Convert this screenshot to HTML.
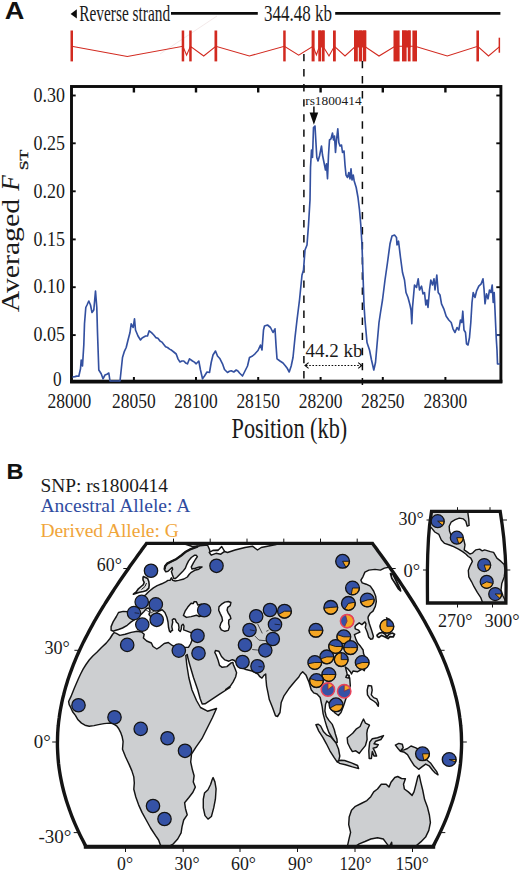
<!DOCTYPE html>
<html><head><meta charset="utf-8"><title>Figure</title>
<style>
html,body{margin:0;padding:0;background:#fff;}
body{width:520px;height:872px;overflow:hidden;font-family:"Liberation Serif",serif;}
svg{display:block;}
</style></head><body>
<svg width="520" height="872" viewBox="0 0 520 872">
<rect x="0" y="0" width="520" height="872" fill="#ffffff"/>
<text x="4.8" y="18.8" font-size="24.2" font-family='"Liberation Sans", sans-serif' font-weight="bold" font-style="normal" fill="#111" text-anchor="start" textLength="19.6" lengthAdjust="spacingAndGlyphs">A</text>
<polygon points="70.6,13.9 76.8,9.3 76.8,18.5" fill="#0c0c0c"/>
<text x="79.2" y="21" font-size="22.8" font-family='"Liberation Serif", serif' font-weight="normal" font-style="normal" fill="#1a1a1a" text-anchor="start" textLength="91" lengthAdjust="spacingAndGlyphs">Reverse strand</text>
<line x1="171" y1="13.3" x2="257.8" y2="13.3" stroke="#0c0c0c" stroke-width="2.7"/>
<text x="264" y="21" font-size="22.6" font-family='"Liberation Serif", serif' font-weight="normal" font-style="normal" fill="#1a1a1a" text-anchor="start" textLength="68" lengthAdjust="spacingAndGlyphs">344.48 kb</text>
<line x1="335.2" y1="13.3" x2="500.4" y2="13.3" stroke="#0c0c0c" stroke-width="2.7"/>
<line x1="160" y1="54" x2="217" y2="16" stroke="#efe2e2" stroke-width="0.8"/>
<polyline points="71.6,46.3 127.3,56.5 182.9,46.3 186.6,55.2 190.4,46.3 203.7,56.0 215.8,46.3 249.4,56.0 284.4,46.3 298.7,55.2 313.0,46.3 316.4,55.0 319.5,46.3 323.0,46.3 329.0,56.0 334.4,46.3 345.0,56.0 355.5,46.3 364.5,46.3 379.0,56.0 395.0,46.3 415.0,46.3 447.3,56.0 477.7,46.3 488.5,56.0 499.3,46.8" fill="none" stroke="#d22a20" stroke-width="1.1" stroke-linejoin="miter"/>
<rect x="70.5" y="30.5" width="2.5" height="30.9" fill="#d22a20"/>
<rect x="181.7" y="30.5" width="2.5" height="30.9" fill="#d22a20"/>
<rect x="189.2" y="30.5" width="2.5" height="30.9" fill="#d22a20"/>
<rect x="214.5" y="30.5" width="2.7" height="30.9" fill="#d22a20"/>
<rect x="283.2" y="30.5" width="2.5" height="30.9" fill="#d22a20"/>
<rect x="311.6" y="30.5" width="3.0" height="30.9" fill="#d22a20"/>
<rect x="318.3" y="30.5" width="2.7" height="30.9" fill="#d22a20"/>
<rect x="321.8" y="30.5" width="2.8" height="30.9" fill="#d22a20"/>
<rect x="333.0" y="30.5" width="2.8" height="30.9" fill="#d22a20"/>
<rect x="354.0" y="30.5" width="3.8" height="30.9" fill="#d22a20"/>
<rect x="358.8" y="30.5" width="3.2" height="30.9" fill="#d22a20"/>
<rect x="362.8" y="30.5" width="3.4" height="30.9" fill="#d22a20"/>
<rect x="393.5" y="30.5" width="6.1" height="30.9" fill="#d22a20"/>
<rect x="402.0" y="30.5" width="4.6" height="30.9" fill="#d22a20"/>
<rect x="407.8" y="30.5" width="2.8" height="30.9" fill="#d22a20"/>
<rect x="412.4" y="30.5" width="4.6" height="30.9" fill="#d22a20"/>
<rect x="476.4" y="30.5" width="2.6" height="30.9" fill="#d22a20"/>
<rect x="318.3" y="30.5" width="6.3" height="17" fill="#d22a20"/>
<rect x="354.0" y="30.5" width="12.2" height="17" fill="#d22a20"/>
<rect x="402.0" y="30.5" width="8.6" height="17" fill="#d22a20"/>
<rect x="498.6" y="37.7" width="1.5" height="15" fill="#d22a20"/>
<line x1="303.9" y1="53.9" x2="303.9" y2="385" stroke="#0c0c0c" stroke-width="1.5" stroke-dasharray="7.4,7.7"/>
<line x1="362.4" y1="60.9" x2="362.4" y2="385" stroke="#0c0c0c" stroke-width="1.5" stroke-dasharray="7.4,7.7"/>
<rect x="71.5" y="86.5" width="429.4" height="294.9" fill="none" stroke="#0c0c0c" stroke-width="2.9"/>
<line x1="70.05" y1="381.54999999999995" x2="502.34999999999997" y2="381.54999999999995" stroke="#0c0c0c" stroke-width="3.7"/>
<line x1="71.5" y1="95.5" x2="75.7" y2="95.5" stroke="#0c0c0c" stroke-width="1.9"/>
<line x1="500.9" y1="95.5" x2="496.29999999999995" y2="95.5" stroke="#0c0c0c" stroke-width="1.9"/>
<text x="33.6" y="101.7" font-size="20" font-family='"Liberation Serif", serif' font-weight="normal" font-style="normal" fill="#1a1a1a" text-anchor="start" textLength="31.4" lengthAdjust="spacingAndGlyphs">0.30</text>
<line x1="71.5" y1="143.3" x2="75.7" y2="143.3" stroke="#0c0c0c" stroke-width="1.9"/>
<line x1="500.9" y1="143.3" x2="496.29999999999995" y2="143.3" stroke="#0c0c0c" stroke-width="1.9"/>
<text x="33.6" y="149.5" font-size="20" font-family='"Liberation Serif", serif' font-weight="normal" font-style="normal" fill="#1a1a1a" text-anchor="start" textLength="31.4" lengthAdjust="spacingAndGlyphs">0.25</text>
<line x1="71.5" y1="191.3" x2="75.7" y2="191.3" stroke="#0c0c0c" stroke-width="1.9"/>
<line x1="500.9" y1="191.3" x2="496.29999999999995" y2="191.3" stroke="#0c0c0c" stroke-width="1.9"/>
<text x="33.6" y="197.5" font-size="20" font-family='"Liberation Serif", serif' font-weight="normal" font-style="normal" fill="#1a1a1a" text-anchor="start" textLength="31.4" lengthAdjust="spacingAndGlyphs">0.20</text>
<line x1="71.5" y1="239.4" x2="75.7" y2="239.4" stroke="#0c0c0c" stroke-width="1.9"/>
<line x1="500.9" y1="239.4" x2="496.29999999999995" y2="239.4" stroke="#0c0c0c" stroke-width="1.9"/>
<text x="33.6" y="245.6" font-size="20" font-family='"Liberation Serif", serif' font-weight="normal" font-style="normal" fill="#1a1a1a" text-anchor="start" textLength="31.4" lengthAdjust="spacingAndGlyphs">0.15</text>
<line x1="71.5" y1="287.2" x2="75.7" y2="287.2" stroke="#0c0c0c" stroke-width="1.9"/>
<line x1="500.9" y1="287.2" x2="496.29999999999995" y2="287.2" stroke="#0c0c0c" stroke-width="1.9"/>
<text x="33.6" y="293.4" font-size="20" font-family='"Liberation Serif", serif' font-weight="normal" font-style="normal" fill="#1a1a1a" text-anchor="start" textLength="31.4" lengthAdjust="spacingAndGlyphs">0.10</text>
<line x1="71.5" y1="335.1" x2="75.7" y2="335.1" stroke="#0c0c0c" stroke-width="1.9"/>
<line x1="500.9" y1="335.1" x2="496.29999999999995" y2="335.1" stroke="#0c0c0c" stroke-width="1.9"/>
<text x="33.6" y="341.3" font-size="20" font-family='"Liberation Serif", serif' font-weight="normal" font-style="normal" fill="#1a1a1a" text-anchor="start" textLength="31.4" lengthAdjust="spacingAndGlyphs">0.05</text>
<text x="53.0" y="385.8" font-size="20" font-family='"Liberation Serif", serif' font-weight="normal" font-style="normal" fill="#1a1a1a" text-anchor="start" textLength="8.6" lengthAdjust="spacingAndGlyphs">0</text>
<text x="47.60000000000001" y="407.8" font-size="20.8" font-family='"Liberation Serif", serif' font-weight="normal" font-style="normal" fill="#1a1a1a" text-anchor="start" textLength="43.6" lengthAdjust="spacingAndGlyphs">28000</text>
<line x1="133.9" y1="381.4" x2="133.9" y2="377.0" stroke="#0c0c0c" stroke-width="2.0"/>
<line x1="133.9" y1="86.5" x2="133.9" y2="92.5" stroke="#0c0c0c" stroke-width="2.4"/>
<text x="112.10000000000001" y="407.8" font-size="20.8" font-family='"Liberation Serif", serif' font-weight="normal" font-style="normal" fill="#1a1a1a" text-anchor="start" textLength="43.6" lengthAdjust="spacingAndGlyphs">28050</text>
<line x1="196.0" y1="381.4" x2="196.0" y2="377.0" stroke="#0c0c0c" stroke-width="2.0"/>
<line x1="196.0" y1="86.5" x2="196.0" y2="92.5" stroke="#0c0c0c" stroke-width="2.4"/>
<text x="174.2" y="407.8" font-size="20.8" font-family='"Liberation Serif", serif' font-weight="normal" font-style="normal" fill="#1a1a1a" text-anchor="start" textLength="43.6" lengthAdjust="spacingAndGlyphs">28100</text>
<line x1="258.2" y1="381.4" x2="258.2" y2="377.0" stroke="#0c0c0c" stroke-width="2.0"/>
<line x1="258.2" y1="86.5" x2="258.2" y2="92.5" stroke="#0c0c0c" stroke-width="2.4"/>
<text x="236.39999999999998" y="407.8" font-size="20.8" font-family='"Liberation Serif", serif' font-weight="normal" font-style="normal" fill="#1a1a1a" text-anchor="start" textLength="43.6" lengthAdjust="spacingAndGlyphs">28150</text>
<line x1="320.6" y1="381.4" x2="320.6" y2="377.0" stroke="#0c0c0c" stroke-width="2.0"/>
<line x1="320.6" y1="86.5" x2="320.6" y2="92.5" stroke="#0c0c0c" stroke-width="2.4"/>
<text x="298.8" y="407.8" font-size="20.8" font-family='"Liberation Serif", serif' font-weight="normal" font-style="normal" fill="#1a1a1a" text-anchor="start" textLength="43.6" lengthAdjust="spacingAndGlyphs">28200</text>
<line x1="382.8" y1="381.4" x2="382.8" y2="377.0" stroke="#0c0c0c" stroke-width="2.0"/>
<line x1="382.8" y1="86.5" x2="382.8" y2="92.5" stroke="#0c0c0c" stroke-width="2.4"/>
<text x="361.0" y="407.8" font-size="20.8" font-family='"Liberation Serif", serif' font-weight="normal" font-style="normal" fill="#1a1a1a" text-anchor="start" textLength="43.6" lengthAdjust="spacingAndGlyphs">28250</text>
<line x1="445.4" y1="381.4" x2="445.4" y2="377.0" stroke="#0c0c0c" stroke-width="2.0"/>
<line x1="445.4" y1="86.5" x2="445.4" y2="92.5" stroke="#0c0c0c" stroke-width="2.4"/>
<text x="423.59999999999997" y="407.8" font-size="20.8" font-family='"Liberation Serif", serif' font-weight="normal" font-style="normal" fill="#1a1a1a" text-anchor="start" textLength="43.6" lengthAdjust="spacingAndGlyphs">28300</text>
<text x="231.6" y="438.2" font-size="28.9" font-family='"Liberation Serif", serif' font-weight="normal" font-style="normal" fill="#1a1a1a" text-anchor="start" textLength="115.6" lengthAdjust="spacingAndGlyphs">Position (kb)</text>
<g transform="translate(18.5,312.3) rotate(-90) scale(1,0.892)">
<text x="0" y="0" font-size="29.1" font-family='"Liberation Serif", serif' font-weight="normal" font-style="normal" fill="#1a1a1a" text-anchor="start" textLength="113.3" lengthAdjust="spacingAndGlyphs">Averaged</text>
<text x="121.6" y="0" font-size="29.1" font-family='"Liberation Serif", serif' font-weight="normal" font-style="italic" fill="#1a1a1a" text-anchor="start" textLength="15.6" lengthAdjust="spacingAndGlyphs">F</text>
<text x="142.0" y="10.6" font-size="14.6" font-family='"Liberation Serif", serif' font-weight="normal" font-style="normal" fill="#1a1a1a" text-anchor="start" textLength="20.6" lengthAdjust="spacingAndGlyphs" stroke="#1a1a1a" stroke-width="0.35">ST</text>
</g>
<polyline points="73.0,377.0 74.9,376.6 76.8,376.1 78.8,376.2 80.5,368.8 81.2,360.0 82.5,366.0 83.8,345.0 84.5,323.8 85.8,307.5 87.0,305.0 88.8,301.0 90.5,305.0 92.0,312.5 93.8,310.0 95.5,291.0 96.8,307.5 97.5,332.5 98.8,370.0 101.2,373.8 103.0,378.8 105.0,375.0 106.9,374.2 108.8,373.0 110.0,381.0 111.7,381.0 113.3,381.0 115.0,381.0 116.7,381.0 118.3,381.0 120.0,381.0 122.5,357.5 124.4,351.3 126.2,347.5 128.1,339.8 130.0,332.5 131.2,323.8 133.2,327.5 134.5,318.8 135.5,330.0 138.0,336.0 140.5,340.0 142.1,337.9 143.8,337.0 145.6,336.0 147.5,336.0 149.2,330.8 151.5,332.7 153.8,335.0 155.8,337.6 157.9,338.3 160.0,341.0 161.9,342.1 163.8,344.5 165.6,346.8 167.5,347.5 169.6,349.1 171.7,350.3 173.8,352.0 176.2,354.0 178.1,359.1 180.0,362.0 181.9,361.0 183.8,361.0 185.6,362.9 187.5,363.8 189.5,358.8 192.5,361.0 194.4,362.1 196.2,363.8 198.8,361.0 200.5,370.0 202.5,378.8 204.5,376.0 207.0,372.0 209.5,372.5 211.2,362.5 213.0,355.0 215.5,351.0 217.5,356.0 220.0,358.8 222.5,363.8 224.5,369.5 227.5,372.5 229.4,371.2 231.2,370.8 233.8,372.0 236.2,370.0 237.9,370.9 239.5,373.0 242.5,376.0 244.5,372.0 247.5,366.0 249.5,357.5 252.5,356.0 255.0,353.8 258.0,350.5 260.5,345.0 262.0,350.0 263.5,330.0 264.5,326.0 267.5,325.0 270.5,327.5 273.0,332.5 275.0,328.8 276.0,345.0 277.0,358.8 280.0,361.0 283.0,363.0 285.5,366.0 287.4,368.6 289.2,372.0 291.2,366.0 293.0,357.5 295.0,337.5 297.0,320.0 299.5,300.0 302.0,275.0 303.5,270.0 305.0,250.0 307.0,245.0 308.5,225.0 310.0,200.0 310.5,167.5 311.5,150.0 312.5,157.5 313.5,127.5 315.0,126.0 315.8,140.0 316.8,157.5 318.0,161.0 319.5,156.0 321.5,146.0 322.5,155.0 324.0,162.5 325.5,170.0 326.5,163.8 327.5,178.8 328.5,155.0 329.5,140.0 331.0,138.8 332.5,133.0 333.5,140.0 334.5,136.0 335.5,152.5 336.5,140.0 337.8,128.8 338.8,142.5 340.0,146.0 341.5,145.0 342.5,152.5 344.0,151.0 345.0,165.0 346.0,175.0 347.5,177.5 348.8,172.5 350.0,178.8 351.0,168.8 352.0,180.0 353.2,175.0 354.2,181.0 356.2,187.5 358.0,197.5 359.5,210.0 360.8,225.0 362.0,245.0 363.0,275.0 364.0,305.0 365.0,320.0 367.0,342.5 369.5,350.0 371.5,360.0 373.8,370.0 375.5,362.5 377.0,345.0 379.0,322.5 380.5,312.5 382.5,300.0 385.0,280.0 387.5,262.5 390.0,243.8 392.0,236.0 394.5,235.0 396.5,237.5 397.0,245.0 398.5,241.2 400.5,257.5 402.5,272.5 404.5,280.0 406.0,292.5 408.0,297.5 410.0,305.0 411.0,310.0 411.8,323.8 412.5,307.5 414.5,285.0 416.5,287.5 418.2,278.8 419.5,290.0 421.5,286.2 423.0,293.8 424.5,292.5 425.8,305.0 427.0,300.0 428.0,307.5 429.5,290.0 430.8,280.0 432.5,285.0 434.0,278.8 435.0,290.0 436.8,275.0 438.2,292.5 440.0,295.0 441.5,303.8 443.8,308.8 446.2,316.2 448.8,320.0 451.2,322.5 453.0,328.8 455.0,332.5 457.0,327.5 458.8,330.0 460.5,320.0 461.8,322.5 462.8,311.2 464.0,330.0 465.5,332.5 466.5,343.8 468.0,345.0 469.5,337.5 470.8,322.5 472.0,302.5 473.2,292.5 475.0,297.5 476.5,291.2 478.8,286.2 481.2,283.8 483.0,278.8 484.0,288.8 485.0,303.8 486.5,293.8 488.0,298.8 489.5,290.0 491.0,292.5 492.2,285.0 493.2,302.5 494.2,292.5 495.2,315.0 496.2,337.5 497.0,350.0 497.5,364.0 499.5,364.0" fill="none" stroke="#3350a0" stroke-width="1.65" stroke-linejoin="round" stroke-linecap="round"/>
<line x1="496" y1="335.2" x2="499.5" y2="335.2" stroke="#3350a0" stroke-width="1.3"/>
<text x="305.2" y="104.8" font-size="12.3" font-family='"Liberation Serif", serif' font-weight="normal" font-style="normal" fill="#1a1a1a" text-anchor="start" textLength="56.4" lengthAdjust="spacingAndGlyphs">rs1800414</text>
<line x1="313.9" y1="106.5" x2="313.9" y2="115" stroke="#0c0c0c" stroke-width="1.5"/>
<polygon points="309.6,112.4 318.2,112.4 313.9,124.8" fill="#0c0c0c"/>
<text x="305.4" y="357.4" font-size="19.6" font-family='"Liberation Serif", serif' font-weight="normal" font-style="normal" fill="#1a1a1a" text-anchor="start" textLength="57" lengthAdjust="spacingAndGlyphs">44.2 kb</text>
<line x1="306" y1="365.5" x2="361" y2="365.5" stroke="#0c0c0c" stroke-width="1.1" stroke-dasharray="1.6,1.6"/>
<polyline points="308.6,362.6 305,365.5 308.6,368.4" fill="none" stroke="#0c0c0c" stroke-width="1.1"/>
<polyline points="358.2,362.6 361.8,365.5 358.2,368.4" fill="none" stroke="#0c0c0c" stroke-width="1.1"/>
<text x="6.6" y="479.2" font-size="22.4" font-family='"Liberation Sans", sans-serif' font-weight="bold" font-style="normal" fill="#111" text-anchor="start" textLength="17.0" lengthAdjust="spacingAndGlyphs">B</text>
<text x="40.4" y="491.5" font-size="19.4" font-family='"Liberation Serif", serif' font-weight="normal" font-style="normal" fill="#1a1a1a" text-anchor="start" textLength="127.6" lengthAdjust="spacingAndGlyphs">SNP: rs1800414</text>
<text x="40.4" y="511.5" font-size="19.4" font-family='"Liberation Serif", serif' font-weight="normal" font-style="normal" fill="#2f4c9f" text-anchor="start" textLength="150" lengthAdjust="spacingAndGlyphs">Ancestral Allele: A</text>
<text x="40.4" y="536.5" font-size="19.4" font-family='"Liberation Serif", serif' font-weight="normal" font-style="normal" fill="#f0a53a" text-anchor="start" textLength="138.4" lengthAdjust="spacingAndGlyphs">Derived Allele: G</text>
<clipPath id="mapclip"><path d="M146.5,543.4 C145.6,544.7 142.8,548.5 141.0,551.0 C139.1,553.5 137.3,556.0 135.5,558.6 C133.7,561.1 131.9,563.6 130.1,566.1 C128.3,568.7 126.6,571.2 124.8,573.7 C123.1,576.2 121.3,578.8 119.6,581.3 C117.9,583.8 116.2,586.4 114.5,588.9 C112.9,591.4 111.2,593.9 109.6,596.5 C108.0,599.0 106.3,601.5 104.8,604.0 C103.2,606.6 101.7,609.1 100.1,611.6 C98.6,614.1 97.1,616.7 95.7,619.2 C94.2,621.7 92.8,624.3 91.4,626.8 C90.0,629.3 88.7,631.8 87.4,634.4 C86.1,636.9 84.8,639.4 83.5,641.9 C82.3,644.5 81.1,647.0 79.9,649.5 C78.8,652.0 77.6,654.6 76.5,657.1 C75.5,659.6 74.4,662.2 73.4,664.7 C72.4,667.2 71.5,669.7 70.5,672.3 C69.6,674.8 68.8,677.3 67.9,679.8 C67.1,682.4 66.3,684.9 65.6,687.4 C64.9,689.9 64.2,692.5 63.6,695.0 C62.9,697.5 62.3,700.1 61.8,702.6 C61.3,705.1 60.8,707.6 60.3,710.2 C59.9,712.7 59.5,715.2 59.2,717.7 C58.8,720.3 58.5,722.8 58.3,725.3 C58.0,727.8 57.9,730.4 57.7,732.9 C57.6,735.4 57.5,738.0 57.5,740.5 C57.4,743.0 57.4,745.5 57.5,748.1 C57.6,750.6 57.7,753.1 57.9,755.6 C58.0,758.2 58.3,760.7 58.5,763.2 C58.8,765.7 59.1,768.3 59.5,770.8 C59.9,773.3 60.3,775.9 60.8,778.4 C61.3,780.9 61.8,783.4 62.4,786.0 C63.0,788.5 63.6,791.0 64.3,793.5 C65.0,796.1 65.8,798.6 66.5,801.1 C67.3,803.6 68.2,806.2 69.1,808.7 C70.0,811.2 70.9,813.8 71.9,816.3 C72.9,818.8 73.9,821.3 75.0,823.9 C76.1,826.4 77.2,828.9 78.4,831.4 C79.6,834.0 80.8,836.5 82.1,839.0 C83.3,841.5 85.4,845.3 86.0,846.6 L433.0,846.6 L433.0,846.6 C433.6,845.3 435.7,841.5 436.9,839.0 C438.2,836.5 439.4,834.0 440.6,831.4 C441.8,828.9 442.9,826.4 444.0,823.9 C445.1,821.3 446.1,818.8 447.1,816.3 C448.1,813.8 449.0,811.2 449.9,808.7 C450.8,806.2 451.7,803.6 452.5,801.1 C453.2,798.6 454.0,796.1 454.7,793.5 C455.4,791.0 456.0,788.5 456.6,786.0 C457.2,783.4 457.7,780.9 458.2,778.4 C458.7,775.9 459.1,773.3 459.5,770.8 C459.9,768.3 460.2,765.7 460.5,763.2 C460.7,760.7 461.0,758.2 461.1,755.6 C461.3,753.1 461.4,750.6 461.5,748.1 C461.6,745.5 461.6,743.0 461.5,740.5 C461.5,738.0 461.4,735.4 461.3,732.9 C461.1,730.4 461.0,727.8 460.7,725.3 C460.5,722.8 460.2,720.3 459.8,717.7 C459.5,715.2 459.1,712.7 458.7,710.2 C458.2,707.6 457.7,705.1 457.2,702.6 C456.7,700.1 456.1,697.5 455.4,695.0 C454.8,692.5 454.1,689.9 453.4,687.4 C452.7,684.9 451.9,682.4 451.1,679.8 C450.2,677.3 449.4,674.8 448.5,672.3 C447.5,669.7 446.6,667.2 445.6,664.7 C444.6,662.2 443.5,659.6 442.5,657.1 C441.4,654.6 440.2,652.0 439.1,649.5 C437.9,647.0 436.7,644.5 435.5,641.9 C434.2,639.4 432.9,636.9 431.6,634.4 C430.3,631.8 429.0,629.3 427.6,626.8 C426.2,624.3 424.8,621.7 423.3,619.2 C421.9,616.7 420.4,614.1 418.9,611.6 C417.3,609.1 415.8,606.6 414.2,604.0 C412.7,601.5 411.0,599.0 409.4,596.5 C407.8,593.9 406.1,591.4 404.5,588.9 C402.8,586.4 401.1,583.8 399.4,581.3 C397.7,578.8 395.9,576.2 394.2,573.7 C392.4,571.2 390.7,568.7 388.9,566.1 C387.1,563.6 385.3,561.1 383.5,558.6 C381.7,556.0 379.9,553.5 378.0,551.0 C376.2,548.5 373.4,544.7 372.5,543.4 Z"/></clipPath>
<g clip-path="url(#mapclip)">
<path d="M146.5,543.4 C145.6,544.7 142.8,548.5 141.0,551.0 C139.1,553.5 137.3,556.0 135.5,558.6 C133.7,561.1 131.9,563.6 130.1,566.1 C128.3,568.7 126.6,571.2 124.8,573.7 C123.1,576.2 121.3,578.8 119.6,581.3 C117.9,583.8 116.2,586.4 114.5,588.9 C112.9,591.4 111.2,593.9 109.6,596.5 C108.0,599.0 106.3,601.5 104.8,604.0 C103.2,606.6 101.7,609.1 100.1,611.6 C98.6,614.1 97.1,616.7 95.7,619.2 C94.2,621.7 92.8,624.3 91.4,626.8 C90.0,629.3 88.7,631.8 87.4,634.4 C86.1,636.9 84.8,639.4 83.5,641.9 C82.3,644.5 81.1,647.0 79.9,649.5 C78.8,652.0 77.6,654.6 76.5,657.1 C75.5,659.6 74.4,662.2 73.4,664.7 C72.4,667.2 71.5,669.7 70.5,672.3 C69.6,674.8 68.8,677.3 67.9,679.8 C67.1,682.4 66.3,684.9 65.6,687.4 C64.9,689.9 64.2,692.5 63.6,695.0 C62.9,697.5 62.3,700.1 61.8,702.6 C61.3,705.1 60.8,707.6 60.3,710.2 C59.9,712.7 59.5,715.2 59.2,717.7 C58.8,720.3 58.5,722.8 58.3,725.3 C58.0,727.8 57.9,730.4 57.7,732.9 C57.6,735.4 57.5,738.0 57.5,740.5 C57.4,743.0 57.4,745.5 57.5,748.1 C57.6,750.6 57.7,753.1 57.9,755.6 C58.0,758.2 58.3,760.7 58.5,763.2 C58.8,765.7 59.1,768.3 59.5,770.8 C59.9,773.3 60.3,775.9 60.8,778.4 C61.3,780.9 61.8,783.4 62.4,786.0 C63.0,788.5 63.6,791.0 64.3,793.5 C65.0,796.1 65.8,798.6 66.5,801.1 C67.3,803.6 68.2,806.2 69.1,808.7 C70.0,811.2 70.9,813.8 71.9,816.3 C72.9,818.8 73.9,821.3 75.0,823.9 C76.1,826.4 77.2,828.9 78.4,831.4 C79.6,834.0 80.8,836.5 82.1,839.0 C83.3,841.5 85.4,845.3 86.0,846.6 L433.0,846.6 L433.0,846.6 C433.6,845.3 435.7,841.5 436.9,839.0 C438.2,836.5 439.4,834.0 440.6,831.4 C441.8,828.9 442.9,826.4 444.0,823.9 C445.1,821.3 446.1,818.8 447.1,816.3 C448.1,813.8 449.0,811.2 449.9,808.7 C450.8,806.2 451.7,803.6 452.5,801.1 C453.2,798.6 454.0,796.1 454.7,793.5 C455.4,791.0 456.0,788.5 456.6,786.0 C457.2,783.4 457.7,780.9 458.2,778.4 C458.7,775.9 459.1,773.3 459.5,770.8 C459.9,768.3 460.2,765.7 460.5,763.2 C460.7,760.7 461.0,758.2 461.1,755.6 C461.3,753.1 461.4,750.6 461.5,748.1 C461.6,745.5 461.6,743.0 461.5,740.5 C461.5,738.0 461.4,735.4 461.3,732.9 C461.1,730.4 461.0,727.8 460.7,725.3 C460.5,722.8 460.2,720.3 459.8,717.7 C459.5,715.2 459.1,712.7 458.7,710.2 C458.2,707.6 457.7,705.1 457.2,702.6 C456.7,700.1 456.1,697.5 455.4,695.0 C454.8,692.5 454.1,689.9 453.4,687.4 C452.7,684.9 451.9,682.4 451.1,679.8 C450.2,677.3 449.4,674.8 448.5,672.3 C447.5,669.7 446.6,667.2 445.6,664.7 C444.6,662.2 443.5,659.6 442.5,657.1 C441.4,654.6 440.2,652.0 439.1,649.5 C437.9,647.0 436.7,644.5 435.5,641.9 C434.2,639.4 432.9,636.9 431.6,634.4 C430.3,631.8 429.0,629.3 427.6,626.8 C426.2,624.3 424.8,621.7 423.3,619.2 C421.9,616.7 420.4,614.1 418.9,611.6 C417.3,609.1 415.8,606.6 414.2,604.0 C412.7,601.5 411.0,599.0 409.4,596.5 C407.8,593.9 406.1,591.4 404.5,588.9 C402.8,586.4 401.1,583.8 399.4,581.3 C397.7,578.8 395.9,576.2 394.2,573.7 C392.4,571.2 390.7,568.7 388.9,566.1 C387.1,563.6 385.3,561.1 383.5,558.6 C381.7,556.0 379.9,553.5 378.0,551.0 C376.2,548.5 373.4,544.7 372.5,543.4 Z" fill="#ffffff"/>
<polygon points="203.0,540.0 200.1,545.4 195.4,547.4 190.0,549.4 185.3,552.1 181.2,555.5 176.5,558.9 171.2,561.6 167.1,563.6 165.1,566.3 164.4,569.6 165.8,571.8 168.0,571.2 170.2,569.2 172.2,567.4 172.6,569.5 171.4,571.5 172.5,575.0 173.8,578.4 175.5,578.4 177.2,577.0 179.9,574.3 182.6,571.6 185.3,568.3 186.6,564.9 188.6,560.9 191.3,557.5 194.7,555.2 196.2,555.2 197.4,556.6 195.4,559.5 193.4,562.9 191.3,566.9 192.0,569.0 195.4,568.3 199.4,566.9 202.1,566.9 198.7,569.2 194.7,570.3 191.3,572.3 189.3,574.3 187.3,577.0 183.9,579.0 178.6,580.4 175.2,581.0 172.8,580.4 171.4,577.8 170.0,580.3 168.0,580.4 165.7,581.8 161.8,583.8 157.2,585.6 153.4,587.9 149.2,591.2 147.4,593.0 146.0,594.5 143.5,596.5 145.5,599.0 143.0,603.0 140.0,607.0 136.0,611.0 131.5,612.3 127.9,611.8 123.2,611.4 118.5,612.5 116.4,616.5 113.1,621.9 111.1,626.6 111.1,630.3 113.5,631.2 115.1,630.5 118.5,629.5 122.5,628.0 127.2,625.3 131.2,621.9 135.3,619.2 138.0,617.2 141.0,614.5 144.0,611.5 146.5,608.5 149.0,608.0 150.0,611.0 149.0,614.5 151.0,617.0 155.0,614.0 159.0,611.0 162.2,609.8 164.9,612.5 166.9,617.2 168.0,622.0 168.5,627.3 169.5,631.2 170.6,632.2 171.4,630.6 172.6,630.6 171.8,626.6 172.7,622.0 172.3,619.9 173.6,618.8 175.3,619.2 176.3,622.0 178.4,624.0 179.0,627.5 178.6,630.0 180.2,631.6 181.3,629.0 181.6,625.6 183.0,624.2 184.0,626.0 183.6,629.8 186.4,630.9 190.9,632.6 193.5,632.0 192.3,636.0 191.8,640.8 190.5,644.0 188.6,647.2 185.0,647.4 181.0,646.4 176.5,647.4 172.3,645.5 168.3,642.5 164.2,643.5 160.2,646.8 156.8,649.0 153.0,646.5 151.4,643.0 146.7,641.0 143.4,638.0 144.2,634.2 141.5,632.0 137.3,631.3 131.2,632.4 125.2,634.3 119.8,635.4 116.3,633.4 114.2,632.6 112.5,634.5 110.0,638.5 106.2,643.1 101.5,647.5 96.9,652.3 92.8,656.0 89.2,660.0 86.0,664.5 83.1,669.2 80.6,674.0 78.5,678.5 74.5,687.7 70.8,696.9 68.6,701.5 69.2,704.6 70.8,707.7 72.6,711.8 75.4,715.4 78.0,719.8 81.5,723.1 85.0,725.2 89.2,726.2 94.0,725.6 98.5,724.6 104.0,723.6 109.2,723.1 113.0,723.6 116.9,726.2 118.8,728.8 120.6,732.3 122.2,736.8 123.1,741.5 122.5,749.2 125.6,757.0 129.2,764.6 131.8,770.6 133.8,776.9 134.3,783.0 133.8,789.2 135.8,797.0 138.5,804.6 142.0,812.4 146.2,820.0 150.6,828.0 155.4,835.4 158.6,840.0 160.4,845.0 164.0,847.6 168.2,846.8 173.4,843.8 177.7,839.0 181.1,832.9 182.0,826.9 183.7,820.0 187.2,814.8 185.5,808.7 184.6,802.7 188.9,797.5 192.9,792.3 195.3,787.1 193.3,781.9 194.1,775.8 192.4,769.8 190.7,762.0 191.5,754.2 195.8,747.3 201.9,738.7 207.5,727.5 212.5,717.5 216.5,708.5 207.5,711.2 200.5,707.5 196.5,700.5 192.0,690.0 188.8,677.5 186.8,665.0 185.8,655.5 187.2,654.5 188.1,658.8 189.8,665.0 193.5,677.5 197.8,690.0 200.2,698.8 202.2,704.0 205.0,703.8 212.5,698.8 220.0,693.8 230.0,687.5 225.6,689.5 230.3,686.1 233.0,682.1 235.7,676.7 236.6,672.7 235.0,668.6 233.2,664.2 232.9,662.4 231.2,662.9 226.9,666.6 222.2,667.3 219.5,665.3 218.2,660.6 216.2,655.2 214.8,652.5 215.5,650.5 218.8,651.2 221.5,656.5 224.9,659.9 228.9,661.2 232.3,659.7 234.5,660.5 236.5,663.0 240.0,667.0 246.0,669.5 252.0,671.0 257.9,674.0 259.9,676.7 261.9,678.1 263.9,675.4 265.7,674.0 266.0,679.4 266.6,686.1 268.0,692.9 269.3,699.6 272.5,707.5 275.5,715.8 277.5,716.5 280.0,712.5 281.2,702.5 283.8,696.2 288.8,688.8 295.0,681.2 298.8,677.0 300.5,674.0 302.7,671.7 305.9,674.9 309.0,682.3 311.2,689.7 313.7,692.9 317.0,694.0 320.2,697.5 322.2,706.9 323.1,713.6 324.9,720.4 326.9,727.1 328.9,732.5 332.3,737.9 335.3,742.4 337.2,742.4 337.0,739.2 335.3,733.8 334.3,729.8 332.3,724.4 328.9,720.4 326.2,716.3 324.9,711.0 325.5,704.5 326.8,701.0 329.5,703.5 332.0,709.5 335.0,713.0 338.4,715.5 341.0,712.5 343.5,706.0 345.8,699.0 348.5,692.0 350.3,685.5 349.7,678.0 347.1,673.8 345.4,667.0 347.5,668.5 350.3,671.7 351.5,674.0 353.0,671.0 357.7,671.7 363.0,668.6 366.5,664.5 366.5,659.0 364.5,655.8 363.6,653.8 363.1,650.0 360.7,646.6 357.8,643.3 355.9,639.4 354.4,634.6 356.5,633.6 359.9,632.2 358.6,630.2 355.2,628.8 355.0,626.5 356.5,624.8 359.2,622.8 361.9,624.6 364.9,621.9 366.0,623.8 365.3,627.5 367.3,632.2 368.6,636.9 370.7,639.2 372.7,638.7 373.4,636.2 371.6,630.2 369.3,623.5 368.0,618.1 368.3,616.5 370.3,613.2 373.0,611.1 375.3,606.4 376.3,601.7 375.7,596.3 373.6,591.0 370.3,586.2 366.2,584.2 362.2,582.9 360.9,580.2 362.9,576.8 364.9,572.1 368.9,570.1 375.0,569.4 380.4,570.1 384.4,568.1 395.0,566.0 400.0,540.0 372.0,540.0 147.0,540.0" fill="#cdcfd1" stroke="#141414" stroke-width="1.45" stroke-linejoin="round"/>
<polygon points="183.4,615.4 185.1,611.2 187.8,607.1 191.1,603.3 193.2,603.6 194.2,601.6 196.4,601.8 197.9,605.1 201.0,604.2 205.0,606.5 208.5,611.5 206.0,614.5 199.2,616.5 196.5,615.2 191.1,616.6 186.4,617.4" fill="#ffffff" stroke="#141414" stroke-width="1.45" stroke-linejoin="round"/>
<polygon points="224.8,602.1 228.3,601.5 230.9,602.5 230.2,605.6 227.7,607.3 227.1,610.2 228.3,613.1 230.2,616.0 230.9,618.6 228.8,620.0 228.6,623.4 229.4,626.9 228.3,630.4 224.8,631.3 221.3,629.8 219.8,626.9 220.8,623.4 222.5,620.6 221.9,617.1 220.2,613.6 218.7,610.2 219.0,606.7 221.3,604.4" fill="#ffffff" stroke="#141414" stroke-width="1.45" stroke-linejoin="round"/>
<polygon points="180.0,542.5 192.5,546.5 207.5,545.0 209.5,549.5 210.5,553.8 213.0,550.5 220.0,550.0 227.5,552.5 235.0,550.0 245.0,547.5 252.5,546.2 257.5,550.0 261.2,547.5 267.5,546.2 276.2,544.5 276.2,541.2 180.0,541.2" fill="#ffffff" stroke="#141414" stroke-width="1.45" stroke-linejoin="round"/>
<polygon points="221.7,546.5 224.6,551.3 220.8,554.2 216.0,553.3 211.2,555.2 209.2,552.3 213.1,550.4 217.9,550.4" fill="#ffffff" stroke="#141414" stroke-width="1.45" stroke-linejoin="round"/>
<polygon points="368.2,685.5 371.5,685.9 372.2,690.2 371.3,694.9 373.6,697.6 376.9,698.9 378.5,703.0 378.3,706.3 376.2,703.0 373.6,701.0 370.2,698.9 367.5,694.9 367.2,690.2" fill="#e6e7e9" stroke="#141414" stroke-width="1.45" stroke-linejoin="round"/>
<polygon points="143.4,576.5 147.6,578.5 148.8,581.5 149.2,585.0 148.8,588.1 146.5,590.4 143.4,591.5 139.5,592.3 135.7,593.5 133.4,594.2 136.5,591.5 138.4,588.8 141.1,586.5 143.4,584.6 144.2,582.3 143.0,580.0 143.0,577.7" fill="#dfe0e2" stroke="#141414" stroke-width="1.6" stroke-linejoin="round"/>
<polyline points="141.5,589.5 145,586.5 146.5,583" fill="none" stroke="#141414" stroke-width="1.0"/>
<polyline points="198,546.4 195.4,547.4 190,549.4 185.3,552.1 181.2,555.5 176.5,558.9 171.2,561.6 167.1,563.6 165.1,566.3 164.6,569.4" fill="none" stroke="#141414" stroke-width="2.3" stroke-linejoin="round"/>
<polygon points="390.5,573.5 393.2,574.8 396.5,581.5 399.9,588.3 400.6,591.0 398.5,589.0 395.2,583.5 391.8,578.2" fill="#eeeff0" stroke="#141414" stroke-width="1.7" stroke-linejoin="round"/>
<polygon points="377.0,635.2 379.4,633.2 382.4,632.5 385.0,634.0 387.0,636.8 389.0,634.2 392.3,633.0 394.6,634.2 393.2,637.0 390.0,636.6 388.0,638.6 384.6,636.8 381.6,635.4 379.0,637.4 377.5,636.8" fill="#eeeff0" stroke="#141414" stroke-width="1.7" stroke-linejoin="round"/>
<polygon points="386.2,617.4 390.0,619.2 392.2,623.5 389.5,622.6 387.2,620.6" fill="#141414" stroke="#141414" stroke-width="0.8"/>
<polygon points="213.1,777.6 214.9,781.9 216.1,788.8 215.4,799.2 213.7,807.9 211.4,816.5 208.0,819.1 205.0,815.6 203.3,807.9 203.3,799.2 204.5,793.1 208.0,789.7 210.6,784.5 212.3,779.3" fill="#cdcfd1" stroke="#141414" stroke-width="1.45" stroke-linejoin="round"/>
<polygon points="315.9,724.6 318.3,724.2 320.6,726.0 323.6,731.8 326.5,734.8 330.8,736.9 336.0,743.0 338.5,749.0 339.8,756.0 338.6,761.3 337.3,762.2 334.2,757.7 329.9,750.8 326.4,743.8 323.0,737.6 318.8,731.1" fill="#cdcfd1" stroke="#141414" stroke-width="1.45" stroke-linejoin="round"/>
<polygon points="337.7,761.1 341.0,760.2 344.6,760.5 351.5,762.9 357.6,765.5 358.6,768.6 352.4,766.9 345.5,764.8 339.4,763.4" fill="#cdcfd1" stroke="#141414" stroke-width="1.45" stroke-linejoin="round"/>
<polygon points="363.5,719.1 365.5,723.2 369.5,725.2 367.5,729.2 366.8,733.3 367.1,739.5 365.4,745.6 361.9,749.9 359.3,753.4 355.8,750.8 352.4,751.6 349.8,747.3 347.7,743.0 347.2,737.8 350.0,735.5 352.7,733.3 356.1,729.2 360.1,726.5 362.0,722.0" fill="#cdcfd1" stroke="#141414" stroke-width="1.45" stroke-linejoin="round"/>
<polygon points="369.7,742.1 372.3,738.7 377.5,737.8 383.5,735.6 380.9,739.5 375.7,741.2 374.0,743.8 378.3,744.7 376.6,747.3 373.1,748.2 374.9,751.6 376.6,756.0 374.0,756.0 372.3,751.6 371.4,758.5 369.2,758.5 368.8,750.8" fill="#cdcfd1" stroke="#141414" stroke-width="1.45" stroke-linejoin="round"/>
<polygon points="395.4,745.1 398.8,743.4 402.3,744.2 403.2,747.7 401.2,750.0 403.4,750.1 407.5,748.5 411.0,746.0 415.3,747.7 420.0,750.0 426.5,759.8 430.8,763.3 434.3,768.4 436.9,771.9 438.0,774.8 435.2,773.0 432.6,770.2 429.1,765.8 425.7,764.1 422.2,766.7 418.7,769.3 414.4,765.8 411.0,760.7 407.5,754.6 404.5,752.3 400.4,751.2 398.0,748.5" fill="#cdcfd1" stroke="#141414" stroke-width="1.45" stroke-linejoin="round"/>
<polygon points="347.7,849.0 347.7,844.8 349.2,838.1 350.6,832.3 348.7,824.6 349.2,816.9 351.5,810.2 355.4,806.3 361.2,803.5 366.9,800.6 370.8,796.7 373.7,791.9 377.5,789.0 381.3,784.2 386.2,784.2 389.0,787.1 391.0,782.3 394.8,777.5 397.7,776.5 401.5,778.5 405.4,778.8 403.5,784.2 404.4,789.0 408.3,791.9 412.1,795.4 414.0,791.9 416.0,784.2 417.9,776.5 419.2,775.0 420.8,782.3 422.7,790.0 424.6,799.6 427.5,807.3 429.4,815.0 430.4,822.7 428.8,830.4 425.6,837.1 420.8,841.9 415.0,846.7 414.0,849.0 392.4,849.0 391.6,842.2 390.0,845.6 388.1,845.4 386.2,842.9 383.3,839.0 377.5,837.7 370.8,839.0 365.0,841.5 359.2,843.8 356.0,846.2 354.0,849.0" fill="#cdcfd1" stroke="#141414" stroke-width="1.45" stroke-linejoin="round"/>
<polygon points="363.5,665.6 365.2,666.9 364.3,670.7 362.6,669.4" fill="#cdcfd1" stroke="#141414" stroke-width="1.45" stroke-linejoin="round"/>
<polygon points="346.7,674.9 349.2,675.5 348.4,678.1 345.8,677.4" fill="#cdcfd1" stroke="#141414" stroke-width="1.45" stroke-linejoin="round"/>
</g>
<line x1="173.5" y1="543" x2="173.5" y2="538.6" stroke="#141414" stroke-width="1"/>
<line x1="210.2" y1="543" x2="210.2" y2="538.6" stroke="#141414" stroke-width="1"/>
<line x1="247" y1="543" x2="247" y2="538.6" stroke="#141414" stroke-width="1"/>
<line x1="283.8" y1="543" x2="283.8" y2="538.6" stroke="#141414" stroke-width="1"/>
<line x1="320.5" y1="543" x2="320.5" y2="538.6" stroke="#141414" stroke-width="1"/>
<line x1="357.2" y1="543" x2="357.2" y2="538.6" stroke="#141414" stroke-width="1"/>
<line x1="125.5" y1="847" x2="125.5" y2="852" stroke="#141414" stroke-width="1"/>
<line x1="183.2" y1="847" x2="183.2" y2="852" stroke="#141414" stroke-width="1"/>
<line x1="240" y1="847" x2="240" y2="852" stroke="#141414" stroke-width="1"/>
<line x1="297.5" y1="847" x2="297.5" y2="852" stroke="#141414" stroke-width="1"/>
<line x1="355" y1="847" x2="355" y2="852" stroke="#141414" stroke-width="1"/>
<line x1="412.5" y1="847" x2="412.5" y2="852" stroke="#141414" stroke-width="1"/>
<line x1="128.5" y1="568.5" x2="123.3" y2="568.5" stroke="#141414" stroke-width="1"/>
<line x1="390.5" y1="568.5" x2="395.7" y2="568.5" stroke="#141414" stroke-width="1"/>
<line x1="79.6" y1="650.3" x2="74.4" y2="650.3" stroke="#141414" stroke-width="1"/>
<line x1="439.4" y1="650.3" x2="444.6" y2="650.3" stroke="#141414" stroke-width="1"/>
<line x1="57.4" y1="742.0" x2="52.2" y2="742.0" stroke="#141414" stroke-width="1"/>
<line x1="461.6" y1="742.0" x2="466.8" y2="742.0" stroke="#141414" stroke-width="1"/>
<line x1="78.9" y1="832.6" x2="73.7" y2="832.6" stroke="#141414" stroke-width="1"/>
<line x1="440.1" y1="832.6" x2="445.3" y2="832.6" stroke="#141414" stroke-width="1"/>
<path d="M146.5,543.4 C145.6,544.7 142.8,548.5 141.0,551.0 C139.1,553.5 137.3,556.0 135.5,558.6 C133.7,561.1 131.9,563.6 130.1,566.1 C128.3,568.7 126.6,571.2 124.8,573.7 C123.1,576.2 121.3,578.8 119.6,581.3 C117.9,583.8 116.2,586.4 114.5,588.9 C112.9,591.4 111.2,593.9 109.6,596.5 C108.0,599.0 106.3,601.5 104.8,604.0 C103.2,606.6 101.7,609.1 100.1,611.6 C98.6,614.1 97.1,616.7 95.7,619.2 C94.2,621.7 92.8,624.3 91.4,626.8 C90.0,629.3 88.7,631.8 87.4,634.4 C86.1,636.9 84.8,639.4 83.5,641.9 C82.3,644.5 81.1,647.0 79.9,649.5 C78.8,652.0 77.6,654.6 76.5,657.1 C75.5,659.6 74.4,662.2 73.4,664.7 C72.4,667.2 71.5,669.7 70.5,672.3 C69.6,674.8 68.8,677.3 67.9,679.8 C67.1,682.4 66.3,684.9 65.6,687.4 C64.9,689.9 64.2,692.5 63.6,695.0 C62.9,697.5 62.3,700.1 61.8,702.6 C61.3,705.1 60.8,707.6 60.3,710.2 C59.9,712.7 59.5,715.2 59.2,717.7 C58.8,720.3 58.5,722.8 58.3,725.3 C58.0,727.8 57.9,730.4 57.7,732.9 C57.6,735.4 57.5,738.0 57.5,740.5 C57.4,743.0 57.4,745.5 57.5,748.1 C57.6,750.6 57.7,753.1 57.9,755.6 C58.0,758.2 58.3,760.7 58.5,763.2 C58.8,765.7 59.1,768.3 59.5,770.8 C59.9,773.3 60.3,775.9 60.8,778.4 C61.3,780.9 61.8,783.4 62.4,786.0 C63.0,788.5 63.6,791.0 64.3,793.5 C65.0,796.1 65.8,798.6 66.5,801.1 C67.3,803.6 68.2,806.2 69.1,808.7 C70.0,811.2 70.9,813.8 71.9,816.3 C72.9,818.8 73.9,821.3 75.0,823.9 C76.1,826.4 77.2,828.9 78.4,831.4 C79.6,834.0 80.8,836.5 82.1,839.0 C83.3,841.5 85.4,845.3 86.0,846.6 L433.0,846.6 L433.0,846.6 C433.6,845.3 435.7,841.5 436.9,839.0 C438.2,836.5 439.4,834.0 440.6,831.4 C441.8,828.9 442.9,826.4 444.0,823.9 C445.1,821.3 446.1,818.8 447.1,816.3 C448.1,813.8 449.0,811.2 449.9,808.7 C450.8,806.2 451.7,803.6 452.5,801.1 C453.2,798.6 454.0,796.1 454.7,793.5 C455.4,791.0 456.0,788.5 456.6,786.0 C457.2,783.4 457.7,780.9 458.2,778.4 C458.7,775.9 459.1,773.3 459.5,770.8 C459.9,768.3 460.2,765.7 460.5,763.2 C460.7,760.7 461.0,758.2 461.1,755.6 C461.3,753.1 461.4,750.6 461.5,748.1 C461.6,745.5 461.6,743.0 461.5,740.5 C461.5,738.0 461.4,735.4 461.3,732.9 C461.1,730.4 461.0,727.8 460.7,725.3 C460.5,722.8 460.2,720.3 459.8,717.7 C459.5,715.2 459.1,712.7 458.7,710.2 C458.2,707.6 457.7,705.1 457.2,702.6 C456.7,700.1 456.1,697.5 455.4,695.0 C454.8,692.5 454.1,689.9 453.4,687.4 C452.7,684.9 451.9,682.4 451.1,679.8 C450.2,677.3 449.4,674.8 448.5,672.3 C447.5,669.7 446.6,667.2 445.6,664.7 C444.6,662.2 443.5,659.6 442.5,657.1 C441.4,654.6 440.2,652.0 439.1,649.5 C437.9,647.0 436.7,644.5 435.5,641.9 C434.2,639.4 432.9,636.9 431.6,634.4 C430.3,631.8 429.0,629.3 427.6,626.8 C426.2,624.3 424.8,621.7 423.3,619.2 C421.9,616.7 420.4,614.1 418.9,611.6 C417.3,609.1 415.8,606.6 414.2,604.0 C412.7,601.5 411.0,599.0 409.4,596.5 C407.8,593.9 406.1,591.4 404.5,588.9 C402.8,586.4 401.1,583.8 399.4,581.3 C397.7,578.8 395.9,576.2 394.2,573.7 C392.4,571.2 390.7,568.7 388.9,566.1 C387.1,563.6 385.3,561.1 383.5,558.6 C381.7,556.0 379.9,553.5 378.0,551.0 C376.2,548.5 373.4,544.7 372.5,543.4 Z" fill="none" stroke="#141414" stroke-width="3.4" stroke-linejoin="miter"/>
<line x1="83.8" y1="846.75" x2="435.2" y2="846.75" stroke="#141414" stroke-width="4.0"/>
<text x="96.8" y="571.2" font-size="18.6" font-family='"Liberation Serif", serif' font-weight="normal" font-style="normal" fill="#1a1a1a" text-anchor="start" textLength="25" lengthAdjust="spacingAndGlyphs">60°</text>
<text x="44.4" y="654.4" font-size="18.6" font-family='"Liberation Serif", serif' font-weight="normal" font-style="normal" fill="#1a1a1a" text-anchor="start" textLength="25.4" lengthAdjust="spacingAndGlyphs">30°</text>
<text x="33.8" y="748.4" font-size="18.6" font-family='"Liberation Serif", serif' font-weight="normal" font-style="normal" fill="#1a1a1a" text-anchor="start" textLength="17" lengthAdjust="spacingAndGlyphs">0°</text>
<text x="38.4" y="843.2" font-size="18.6" font-family='"Liberation Serif", serif' font-weight="normal" font-style="normal" fill="#1a1a1a" text-anchor="start" textLength="33" lengthAdjust="spacingAndGlyphs">-30°</text>
<text x="117" y="869.8" font-size="18.6" font-family='"Liberation Serif", serif' font-weight="normal" font-style="normal" fill="#1a1a1a" text-anchor="start" textLength="16" lengthAdjust="spacingAndGlyphs">0°</text>
<text x="174.6" y="869.8" font-size="18.6" font-family='"Liberation Serif", serif' font-weight="normal" font-style="normal" fill="#1a1a1a" text-anchor="start" textLength="25.0" lengthAdjust="spacingAndGlyphs">30°</text>
<text x="231" y="869.8" font-size="18.6" font-family='"Liberation Serif", serif' font-weight="normal" font-style="normal" fill="#1a1a1a" text-anchor="start" textLength="25" lengthAdjust="spacingAndGlyphs">60°</text>
<text x="288" y="869.8" font-size="18.6" font-family='"Liberation Serif", serif' font-weight="normal" font-style="normal" fill="#1a1a1a" text-anchor="start" textLength="25" lengthAdjust="spacingAndGlyphs">90°</text>
<text x="339.4" y="869.8" font-size="18.6" font-family='"Liberation Serif", serif' font-weight="normal" font-style="normal" fill="#1a1a1a" text-anchor="start" textLength="32.200000000000045" lengthAdjust="spacingAndGlyphs">120°</text>
<text x="395.5" y="869.8" font-size="18.6" font-family='"Liberation Serif", serif' font-weight="normal" font-style="normal" fill="#1a1a1a" text-anchor="start" textLength="33.30000000000001" lengthAdjust="spacingAndGlyphs">150°</text>
<clipPath id="insclip"><polygon points="431.5,511.4 429.6,525.0 428.5,538.0 427.7,555.0 427.4,570.4 427.4,586.0 427.5,603.0 505.9,603.0 506.1,586.0 505.9,570.4 505.2,555.0 503.8,538.0 502.2,525.0 500.2,511.4"/></clipPath>
<g clip-path="url(#insclip)">
<polygon points="431.5,511.4 429.6,525.0 428.5,538.0 427.7,555.0 427.4,570.4 427.4,586.0 427.5,603.0 505.9,603.0 506.1,586.0 505.9,570.4 505.2,555.0 503.8,538.0 502.2,525.0 500.2,511.4" fill="#fff"/>
<polygon points="426.0,506.0 467.8,506.0 467.8,512.4 468.8,519.7 469.1,525.4 467.2,526.2 465.8,521.3 463.4,518.9 459.3,518.1 455.2,519.7 451.1,522.2 449.2,526.2 449.5,531.1 451.1,535.2 455.0,537.0 460.0,535.6 462.6,536.8 463.9,540.1 465.0,545.0 464.2,549.9 467.8,552.4 469.9,554.0 472.4,553.2 474.0,551.6 475.7,549.9 479.7,549.1 482.2,550.8 484.6,549.9 490.4,551.6 493.6,552.4 496.9,558.1 501.0,561.4 504.2,564.6 505.1,570.4 504.2,576.9 501.8,583.4 501.0,590.0 503.0,596.0 508.0,606.0 482.5,606.0 482.5,602.2 480.6,597.3 477.3,592.4 474.0,586.7 471.6,581.8 468.8,576.9 468.3,570.4 469.9,566.3 472.4,561.4 470.8,558.1 468.3,556.5 465.8,554.0 462.6,551.6 458.5,549.1 453.6,546.7 449.5,545.0 444.6,543.4 441.3,540.1 438.9,534.4 434.8,532.0 431.5,527.9 426.0,524.5" fill="#cdcfd1" stroke="#141414" stroke-width="1.4" stroke-linejoin="round"/>
</g>
<line x1="457.5" y1="511.2" x2="457.5" y2="507.2" stroke="#141414" stroke-width="1"/>
<line x1="490" y1="511.2" x2="490" y2="507.2" stroke="#141414" stroke-width="1"/>
<line x1="457.5" y1="603" x2="457.5" y2="607.5" stroke="#141414" stroke-width="1"/>
<line x1="492.5" y1="603" x2="492.5" y2="607.5" stroke="#141414" stroke-width="1"/>
<line x1="430.5" y1="520" x2="426.5" y2="520" stroke="#141414" stroke-width="1"/>
<line x1="427" y1="570" x2="423" y2="570" stroke="#141414" stroke-width="1"/>
<line x1="503" y1="520" x2="507" y2="520" stroke="#141414" stroke-width="1"/>
<line x1="506.3" y1="570" x2="510.3" y2="570" stroke="#141414" stroke-width="1"/>
<polygon points="431.5,511.4 429.6,525.0 428.5,538.0 427.7,555.0 427.4,570.4 427.4,586.0 427.5,603.0 505.9,603.0 506.1,586.0 505.9,570.4 505.2,555.0 503.8,538.0 502.2,525.0 500.2,511.4" fill="none" stroke="#141414" stroke-width="3.3" stroke-linejoin="miter"/>
<text x="398.6" y="525" font-size="18.6" font-family='"Liberation Serif", serif' font-weight="normal" font-style="normal" fill="#1a1a1a" text-anchor="start" textLength="25.2" lengthAdjust="spacingAndGlyphs">30°</text>
<text x="403.6" y="577.4" font-size="18.6" font-family='"Liberation Serif", serif' font-weight="normal" font-style="normal" fill="#1a1a1a" text-anchor="start" textLength="16.6" lengthAdjust="spacingAndGlyphs">0°</text>
<text x="438" y="627.2" font-size="18.6" font-family='"Liberation Serif", serif' font-weight="normal" font-style="normal" fill="#1a1a1a" text-anchor="start" textLength="34.5" lengthAdjust="spacingAndGlyphs">270°</text>
<text x="484.6" y="627.2" font-size="18.6" font-family='"Liberation Serif", serif' font-weight="normal" font-style="normal" fill="#1a1a1a" text-anchor="start" textLength="35" lengthAdjust="spacingAndGlyphs">300°</text>
<polyline points="257.6,623.9 262.3,633.4" fill="none" stroke="#3a3a3a" stroke-width="0.9"/>
<polyline points="254.9,636.0 258.9,640.1 266.3,640.8" fill="none" stroke="#3a3a3a" stroke-width="0.9"/>
<polyline points="252.2,649.5 258.9,650.2" fill="none" stroke="#3a3a3a" stroke-width="0.9"/>
<polyline points="266.3,631.3 268.6,630.2" fill="none" stroke="#3a3a3a" stroke-width="0.9"/>
<polyline points="146.0,610.0 151.0,613.0 155.0,610.5" fill="none" stroke="#3a3a3a" stroke-width="0.9"/>
<circle cx="151.0" cy="570.7" r="6.7" fill="#3552a6"/>
<circle cx="151.0" cy="570.7" r="6.7" fill="none" stroke="#141414" stroke-width="1.25"/>
<circle cx="216.5" cy="565.8" r="6.7" fill="#3552a6"/>
<circle cx="216.5" cy="565.8" r="6.7" fill="none" stroke="#141414" stroke-width="1.25"/>
<circle cx="141.7" cy="601.9" r="6.7" fill="#3552a6"/>
<circle cx="141.7" cy="601.9" r="6.7" fill="none" stroke="#141414" stroke-width="1.25"/>
<circle cx="155.8" cy="604.4" r="6.7" fill="#3552a6"/>
<circle cx="155.8" cy="604.4" r="6.7" fill="none" stroke="#141414" stroke-width="1.25"/>
<circle cx="134.0" cy="613.1" r="6.7" fill="#3552a6"/>
<circle cx="134.0" cy="613.1" r="6.7" fill="none" stroke="#141414" stroke-width="1.25"/>
<circle cx="156.7" cy="619.8" r="6.7" fill="#3552a6"/>
<circle cx="156.7" cy="619.8" r="6.7" fill="none" stroke="#141414" stroke-width="1.25"/>
<circle cx="142.3" cy="624.6" r="6.7" fill="#3552a6"/>
<circle cx="142.3" cy="624.6" r="6.7" fill="none" stroke="#141414" stroke-width="1.25"/>
<circle cx="204.2" cy="610.2" r="6.7" fill="#3552a6"/>
<circle cx="204.2" cy="610.2" r="6.7" fill="none" stroke="#141414" stroke-width="1.25"/>
<circle cx="197.5" cy="635.8" r="6.7" fill="#3552a6"/>
<circle cx="197.5" cy="635.8" r="6.7" fill="none" stroke="#141414" stroke-width="1.25"/>
<circle cx="178.8" cy="650.6" r="6.7" fill="#3552a6"/>
<circle cx="178.8" cy="650.6" r="6.7" fill="none" stroke="#141414" stroke-width="1.25"/>
<circle cx="198.5" cy="653.3" r="6.7" fill="#3552a6"/>
<circle cx="198.5" cy="653.3" r="6.7" fill="none" stroke="#141414" stroke-width="1.25"/>
<circle cx="127.2" cy="644.9" r="6.7" fill="#3552a6"/>
<circle cx="127.2" cy="644.9" r="6.7" fill="none" stroke="#141414" stroke-width="1.25"/>
<circle cx="270.0" cy="610.0" r="6.7" fill="#3552a6"/>
<circle cx="270.0" cy="610.0" r="6.7" fill="none" stroke="#141414" stroke-width="1.25"/>
<circle cx="256.2" cy="616.2" r="6.7" fill="#3552a6"/>
<circle cx="256.2" cy="616.2" r="6.7" fill="none" stroke="#141414" stroke-width="1.25"/>
<circle cx="275.0" cy="624.5" r="6.7" fill="#3552a6"/>
<circle cx="275.0" cy="624.5" r="6.7" fill="none" stroke="#141414" stroke-width="1.25"/>
<circle cx="249.5" cy="630.0" r="6.7" fill="#3552a6"/>
<circle cx="249.5" cy="630.0" r="6.7" fill="none" stroke="#141414" stroke-width="1.25"/>
<circle cx="272.8" cy="639.0" r="6.7" fill="#3552a6"/>
<circle cx="272.8" cy="639.0" r="6.7" fill="none" stroke="#141414" stroke-width="1.25"/>
<circle cx="245.0" cy="645.0" r="6.7" fill="#3552a6"/>
<circle cx="245.0" cy="645.0" r="6.7" fill="none" stroke="#141414" stroke-width="1.25"/>
<circle cx="265.3" cy="650.3" r="6.7" fill="#3552a6"/>
<circle cx="265.3" cy="650.3" r="6.7" fill="none" stroke="#141414" stroke-width="1.25"/>
<circle cx="242.5" cy="662.0" r="6.7" fill="#3552a6"/>
<circle cx="242.5" cy="662.0" r="6.7" fill="none" stroke="#141414" stroke-width="1.25"/>
<circle cx="257.5" cy="666.2" r="6.7" fill="#3552a6"/>
<circle cx="257.5" cy="666.2" r="6.7" fill="none" stroke="#141414" stroke-width="1.25"/>
<circle cx="114.5" cy="717.3" r="6.7" fill="#3552a6"/>
<circle cx="114.5" cy="717.3" r="6.7" fill="none" stroke="#141414" stroke-width="1.25"/>
<circle cx="140.7" cy="728.9" r="6.7" fill="#3552a6"/>
<circle cx="140.7" cy="728.9" r="6.7" fill="none" stroke="#141414" stroke-width="1.25"/>
<circle cx="167.5" cy="738.2" r="6.7" fill="#3552a6"/>
<circle cx="167.5" cy="738.2" r="6.7" fill="none" stroke="#141414" stroke-width="1.25"/>
<circle cx="185.0" cy="750.8" r="6.7" fill="#3552a6"/>
<circle cx="185.0" cy="750.8" r="6.7" fill="none" stroke="#141414" stroke-width="1.25"/>
<circle cx="78.5" cy="705.2" r="6.7" fill="#3552a6"/>
<circle cx="78.5" cy="705.2" r="6.7" fill="none" stroke="#141414" stroke-width="1.25"/>
<circle cx="153.0" cy="806.0" r="6.7" fill="#3552a6"/>
<circle cx="153.0" cy="806.0" r="6.7" fill="none" stroke="#141414" stroke-width="1.25"/>
<circle cx="164.5" cy="819.0" r="6.7" fill="#3552a6"/>
<circle cx="164.5" cy="819.0" r="6.7" fill="none" stroke="#141414" stroke-width="1.25"/>
<polyline points="274.6,624.2 280.3,624.8" fill="none" stroke="#1c2340" stroke-width="1.0"/>
<polyline points="249.8,629.8 254.8,630.8" fill="none" stroke="#1c2340" stroke-width="1.0"/>
<polyline points="134.6,612.8 139.2,613.4" fill="none" stroke="#1c2340" stroke-width="1.0"/>
<polyline points="258.5,666.6 262.5,666.9" fill="none" stroke="#1c2340" stroke-width="1.0"/>
<circle cx="342.6" cy="561.3" r="6.9" fill="#3552a6"/>
<path d="M342.6,561.3 L349.50,561.30 A6.9,6.9 0 0 1 345.92,567.35 Z" fill="#f5a623" stroke="#141414" stroke-width="0.9" stroke-linejoin="round"/>
<circle cx="342.6" cy="561.3" r="6.9" fill="none" stroke="#141414" stroke-width="1.35"/>
<circle cx="352.5" cy="588.0" r="6.9" fill="#3552a6"/>
<path d="M352.5,588.0 L359.40,588.00 A6.9,6.9 0 0 1 351.21,594.78 Z" fill="#f5a623" stroke="#141414" stroke-width="0.9" stroke-linejoin="round"/>
<circle cx="352.5" cy="588.0" r="6.9" fill="none" stroke="#141414" stroke-width="1.35"/>
<circle cx="367.3" cy="600.0" r="6.9" fill="#3552a6"/>
<path d="M367.3,600.0 L374.13,599.04 A6.9,6.9 0 0 1 360.77,602.22 Z" fill="#f5a623" stroke="#141414" stroke-width="0.9" stroke-linejoin="round"/>
<circle cx="367.3" cy="600.0" r="6.9" fill="none" stroke="#141414" stroke-width="1.35"/>
<circle cx="348.4" cy="603.4" r="6.9" fill="#3552a6"/>
<path d="M348.4,603.4 L355.20,602.20 A6.9,6.9 0 0 1 344.62,609.17 Z" fill="#f5a623" stroke="#141414" stroke-width="0.9" stroke-linejoin="round"/>
<circle cx="348.4" cy="603.4" r="6.9" fill="none" stroke="#141414" stroke-width="1.35"/>
<circle cx="330.8" cy="607.4" r="6.9" fill="#3552a6"/>
<path d="M330.8,607.4 L337.68,606.92 A6.9,6.9 0 0 1 323.96,608.31 Z" fill="#f5a623" stroke="#141414" stroke-width="0.9" stroke-linejoin="round"/>
<circle cx="330.8" cy="607.4" r="6.9" fill="none" stroke="#141414" stroke-width="1.35"/>
<circle cx="386.9" cy="626.3" r="6.9" fill="#3552a6"/>
<path d="M386.9,626.3 L393.80,626.30 A6.9,6.9 0 1 1 386.90,619.40 Z" fill="#f5a623" stroke="#141414" stroke-width="0.9" stroke-linejoin="round"/>
<circle cx="386.9" cy="626.3" r="6.9" fill="none" stroke="#141414" stroke-width="1.35"/>
<circle cx="315.9" cy="630.3" r="6.9" fill="#3552a6"/>
<path d="M315.9,630.3 L322.80,630.30 A6.9,6.9 0 0 1 309.00,630.30 Z" fill="#f5a623" stroke="#141414" stroke-width="0.9" stroke-linejoin="round"/>
<circle cx="315.9" cy="630.3" r="6.9" fill="none" stroke="#141414" stroke-width="1.35"/>
<circle cx="343.8" cy="636.8" r="6.9" fill="#3552a6"/>
<path d="M343.8,636.8 L350.70,636.80 A6.9,6.9 0 1 1 337.24,634.67 Z" fill="#f5a623" stroke="#141414" stroke-width="0.9" stroke-linejoin="round"/>
<circle cx="343.8" cy="636.8" r="6.9" fill="none" stroke="#141414" stroke-width="1.35"/>
<circle cx="335.6" cy="646.5" r="6.9" fill="#3552a6"/>
<path d="M335.6,646.5 L342.50,646.50 A6.9,6.9 0 1 1 329.04,644.37 Z" fill="#f5a623" stroke="#141414" stroke-width="0.9" stroke-linejoin="round"/>
<circle cx="335.6" cy="646.5" r="6.9" fill="none" stroke="#141414" stroke-width="1.35"/>
<circle cx="350.6" cy="647.6" r="6.9" fill="#3552a6"/>
<path d="M350.6,647.6 L357.50,647.60 A6.9,6.9 0 0 1 343.70,647.60 Z" fill="#f5a623" stroke="#141414" stroke-width="0.9" stroke-linejoin="round"/>
<circle cx="350.6" cy="647.6" r="6.9" fill="none" stroke="#141414" stroke-width="1.35"/>
<circle cx="326.8" cy="656.9" r="6.9" fill="#3552a6"/>
<path d="M326.8,656.9 L333.70,656.90 A6.9,6.9 0 0 1 320.24,659.03 Z" fill="#f5a623" stroke="#141414" stroke-width="0.9" stroke-linejoin="round"/>
<circle cx="326.8" cy="656.9" r="6.9" fill="none" stroke="#141414" stroke-width="1.35"/>
<circle cx="341.2" cy="659.6" r="6.9" fill="#3552a6"/>
<path d="M341.2,659.6 L348.15,659.60 A6.9,6.9 0 1 1 341.25,652.70 Z" fill="#f5a623" stroke="#141414" stroke-width="0.9" stroke-linejoin="round"/>
<circle cx="341.2" cy="659.6" r="6.9" fill="none" stroke="#141414" stroke-width="1.35"/>
<circle cx="314.8" cy="662.5" r="6.9" fill="#3552a6"/>
<path d="M314.8,662.5 L321.70,662.50 A6.9,6.9 0 0 1 308.02,663.79 Z" fill="#f5a623" stroke="#141414" stroke-width="0.9" stroke-linejoin="round"/>
<circle cx="314.8" cy="662.5" r="6.9" fill="none" stroke="#141414" stroke-width="1.35"/>
<circle cx="362.2" cy="662.5" r="6.9" fill="#3552a6"/>
<path d="M362.2,662.5 L369.10,662.50 A6.9,6.9 0 0 1 355.64,664.63 Z" fill="#f5a623" stroke="#141414" stroke-width="0.9" stroke-linejoin="round"/>
<circle cx="362.2" cy="662.5" r="6.9" fill="none" stroke="#141414" stroke-width="1.35"/>
<circle cx="328.8" cy="674.5" r="6.9" fill="#3552a6"/>
<path d="M328.8,674.5 L335.65,674.50 A6.9,6.9 0 0 1 321.85,674.50 Z" fill="#f5a623" stroke="#141414" stroke-width="0.9" stroke-linejoin="round"/>
<circle cx="328.8" cy="674.5" r="6.9" fill="none" stroke="#141414" stroke-width="1.35"/>
<circle cx="316.5" cy="680.6" r="6.9" fill="#3552a6"/>
<path d="M316.5,680.6 L323.40,680.60 A6.9,6.9 0 1 1 309.94,678.47 Z" fill="#f5a623" stroke="#141414" stroke-width="0.9" stroke-linejoin="round"/>
<circle cx="316.5" cy="680.6" r="6.9" fill="none" stroke="#141414" stroke-width="1.35"/>
<circle cx="336.0" cy="704.8" r="6.9" fill="#3552a6"/>
<path d="M336.0,704.8 L342.90,704.80 A6.9,6.9 0 0 1 329.95,708.12 Z" fill="#f5a623" stroke="#141414" stroke-width="0.9" stroke-linejoin="round"/>
<circle cx="336.0" cy="704.8" r="6.9" fill="none" stroke="#141414" stroke-width="1.35"/>
<circle cx="284.5" cy="611.2" r="6.9" fill="#3552a6"/>
<path d="M284.5,611.2 L291.40,611.25 A6.9,6.9 0 0 1 278.45,614.57 Z" fill="#f5a623" stroke="#141414" stroke-width="0.9" stroke-linejoin="round"/>
<circle cx="284.5" cy="611.2" r="6.9" fill="none" stroke="#141414" stroke-width="1.35"/>
<circle cx="422.5" cy="753.8" r="6.9" fill="#3552a6"/>
<path d="M422.5,753.8 L429.40,753.75 A6.9,6.9 0 0 1 423.79,760.53 Z" fill="#f5a623" stroke="#141414" stroke-width="0.9" stroke-linejoin="round"/>
<circle cx="422.5" cy="753.8" r="6.9" fill="none" stroke="#141414" stroke-width="1.35"/>
<circle cx="449.2" cy="759.5" r="6.9" fill="#3552a6"/>
<path d="M449.2,759.5 L456.15,759.50 A6.9,6.9 0 0 1 455.67,762.04 Z" fill="#f5a623" stroke="#141414" stroke-width="0.9" stroke-linejoin="round"/>
<circle cx="449.2" cy="759.5" r="6.9" fill="none" stroke="#141414" stroke-width="1.35"/>
<circle cx="347.1" cy="621.1" r="6.7" fill="#3552a6"/>
<path d="M347.1,621.1 L345.37,614.63 A6.7,6.7 0 1 1 344.31,627.19 Z" fill="#f5a623" stroke="#7a2a50" stroke-width="0.9" stroke-linejoin="round"/>
<circle cx="347.1" cy="621.1" r="6.7" fill="none" stroke="#e8425a" stroke-width="1.5"/>
<circle cx="327.9" cy="689.5" r="6.7" fill="#3552a6"/>
<path d="M327.9,689.5 L327.90,682.80 A6.7,6.7 0 0 1 333.32,685.56 Z" fill="#f5a623" stroke="#7a2a50" stroke-width="0.9" stroke-linejoin="round"/>
<circle cx="327.9" cy="689.5" r="6.7" fill="none" stroke="#e8425a" stroke-width="1.5"/>
<circle cx="344.2" cy="691.3" r="6.7" fill="#3552a6"/>
<path d="M344.2,691.3 L344.20,684.60 A6.7,6.7 0 0 1 350.26,688.45 Z" fill="#f5a623" stroke="#7a2a50" stroke-width="0.9" stroke-linejoin="round"/>
<circle cx="344.2" cy="691.3" r="6.7" fill="none" stroke="#e8425a" stroke-width="1.5"/>
<circle cx="437.7" cy="521.2" r="6.5" fill="#3552a6"/>
<path d="M437.7,521.2 L444.20,521.20 A6.5,6.5 0 0 1 442.71,525.34 Z" fill="#f5a623" stroke="#141414" stroke-width="0.9" stroke-linejoin="round"/>
<circle cx="437.7" cy="521.2" r="6.5" fill="none" stroke="#141414" stroke-width="1.25"/>
<circle cx="456.8" cy="537.7" r="6.5" fill="#3552a6"/>
<path d="M456.8,537.7 L463.30,537.70 A6.5,6.5 0 0 1 458.81,543.88 Z" fill="#f5a623" stroke="#141414" stroke-width="0.9" stroke-linejoin="round"/>
<circle cx="456.8" cy="537.7" r="6.5" fill="none" stroke="#141414" stroke-width="1.25"/>
<circle cx="484.2" cy="565.0" r="6.5" fill="#3552a6"/>
<path d="M484.2,565.0 L490.70,565.00 A6.5,6.5 0 0 1 486.21,571.18 Z" fill="#f5a623" stroke="#141414" stroke-width="0.9" stroke-linejoin="round"/>
<circle cx="484.2" cy="565.0" r="6.5" fill="none" stroke="#141414" stroke-width="1.25"/>
<circle cx="486.7" cy="581.8" r="6.5" fill="#3552a6"/>
<path d="M486.7,581.8 L492.98,583.48 A6.5,6.5 0 0 1 480.97,584.87 Z" fill="#f5a623" stroke="#141414" stroke-width="0.9" stroke-linejoin="round"/>
<circle cx="486.7" cy="581.8" r="6.5" fill="none" stroke="#141414" stroke-width="1.25"/>
<circle cx="495.2" cy="594.0" r="6.5" fill="#3552a6"/>
<path d="M495.2,594.0 L501.70,594.00 A6.5,6.5 0 0 1 499.94,598.45 Z" fill="#f5a623" stroke="#141414" stroke-width="0.9" stroke-linejoin="round"/>
<circle cx="495.2" cy="594.0" r="6.5" fill="none" stroke="#141414" stroke-width="1.25"/>
</svg>
</body></html>
